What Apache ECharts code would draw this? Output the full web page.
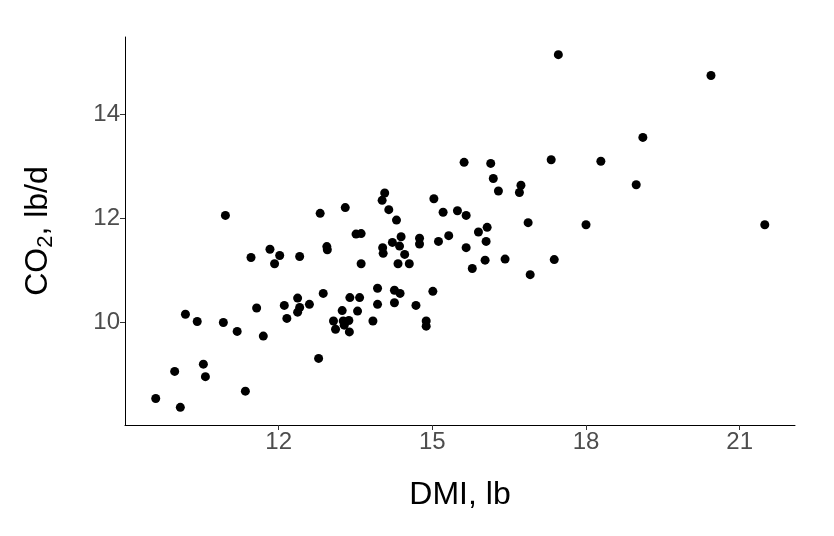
<!DOCTYPE html>
<html>
<head>
<meta charset="utf-8">
<script src="https://cdn.jsdelivr.net/npm/echarts@6/dist/echarts.min.js"></script>
<style>html,body{margin:0;padding:0;background:#fff}#c{width:834px;height:536px}</style>
</head>
<body>
<div id="c"></div>
<script>
const dmi = [9.60,10.08,9.97,10.53,10.57,11.35,10.18,10.41,10.92,11.19,11.70,12.78,10.96,11.46,11.83,12.02,11.92,12.41,11.57,12.11,12.37,12.41,12.37,12.60,12.16,12.81,13.30,12.94,12.95,12.87,13.39,13.58,13.93,14.26,14.37,13.93,14.26,14.68,13.24,13.54,13.07,13.11,13.26,13.28,13.37,13.38,13.84,14.88,14.88,13.51,13.61,14.07,14.02,14.15,14.30,14.39,14.22,14.36,14.03,14.04,14.75,14.75,14.46,14.33,14.55,13.61,15.03,15.21,15.49,15.66,15.12,15.32,15.01,15.62,16.14,16.19,16.29,16.07,15.90,16.05,15.66,16.03,15.78,16.42,16.73,16.70,16.87,16.91,17.32,17.38,17.46,18.00,18.29,18.98,19.11,20.44,21.49];
const co2 = [8.54,8.37,9.06,9.20,8.96,8.68,10.16,10.02,10.00,9.83,9.74,9.31,12.06,11.25,11.41,11.29,11.13,11.27,10.28,10.33,10.47,10.29,10.20,10.35,10.08,12.10,12.21,11.46,11.40,10.56,10.48,10.48,10.66,10.62,10.56,10.35,10.38,10.33,10.23,10.22,10.03,9.87,10.03,9.95,10.04,9.82,10.03,10.03,9.93,11.70,11.71,12.49,12.35,12.17,11.97,11.65,11.54,11.47,11.44,11.33,11.62,11.51,11.31,11.13,11.13,11.13,12.38,12.12,12.15,12.06,11.56,11.67,10.60,13.08,13.06,12.77,12.53,11.83,11.74,11.56,11.44,11.20,11.04,11.22,12.64,12.50,11.92,10.92,13.13,11.21,15.15,11.88,13.10,12.65,13.56,14.75,11.88];
const xTicks = [12, 15, 18, 21];
const yTicks = [10, 12, 14];

const chart = echarts.init(document.getElementById('c'), null, {renderer: 'canvas'});
const pts = dmi.map((x, i) => [x, co2[i]]);
const FF = 'Liberation Sans, Arial, sans-serif';
const lblStyle = {color: '#4D4D4D', fontSize: 24, fontFamily: FF};
chart.setOption({
  animation: false,
  backgroundColor: '#fff',
  grid: {left: 125, right: 39, top: 37, bottom: 111, containLabel: false},
  xAxis: {
    type: 'value', min: 9.0, max: 22.08,
    name: 'DMI, lb', nameLocation: 'middle', nameGap: 54,
    nameTextStyle: {color: '#000', fontSize: 32, fontFamily: FF},
    axisLine: {show: true, onZero: false, lineStyle: {color: '#000', width: 1}},
    axisTick: {show: true, length: 5, lineStyle: {color: '#333'}, customValues: xTicks},
    axisLabel: {...lblStyle, margin: 5, customValues: xTicks},
    splitLine: {show: false}
  },
  yAxis: {
    type: 'value', min: 8.03, max: 15.49,
    name: '{a|CO}{s|2}{a|, lb/d}', nameLocation: 'middle', nameGap: 68, nameRotate: 90,
    nameTextStyle: {
      color: '#000', fontSize: 32, fontFamily: FF,
      rich: {
        a: {fontSize: 32, color: '#000', fontFamily: FF},
        s: {fontSize: 22, color: '#000', fontFamily: FF, padding: [16, 0, 0, 0]}
      }
    },
    axisLine: {show: true, onZero: false, lineStyle: {color: '#000', width: 1}},
    axisTick: {show: true, length: 5, lineStyle: {color: '#333'}, customValues: yTicks},
    axisLabel: {...lblStyle, margin: 5, customValues: yTicks},
    splitLine: {show: false}
  },
  series: [{
    type: 'scatter',
    data: pts,
    symbol: 'circle',
    symbolSize: 9,
    itemStyle: {color: '#000', opacity: 1},
    emphasis: {disabled: true}
  }]
});
</script>
</body>
</html>
